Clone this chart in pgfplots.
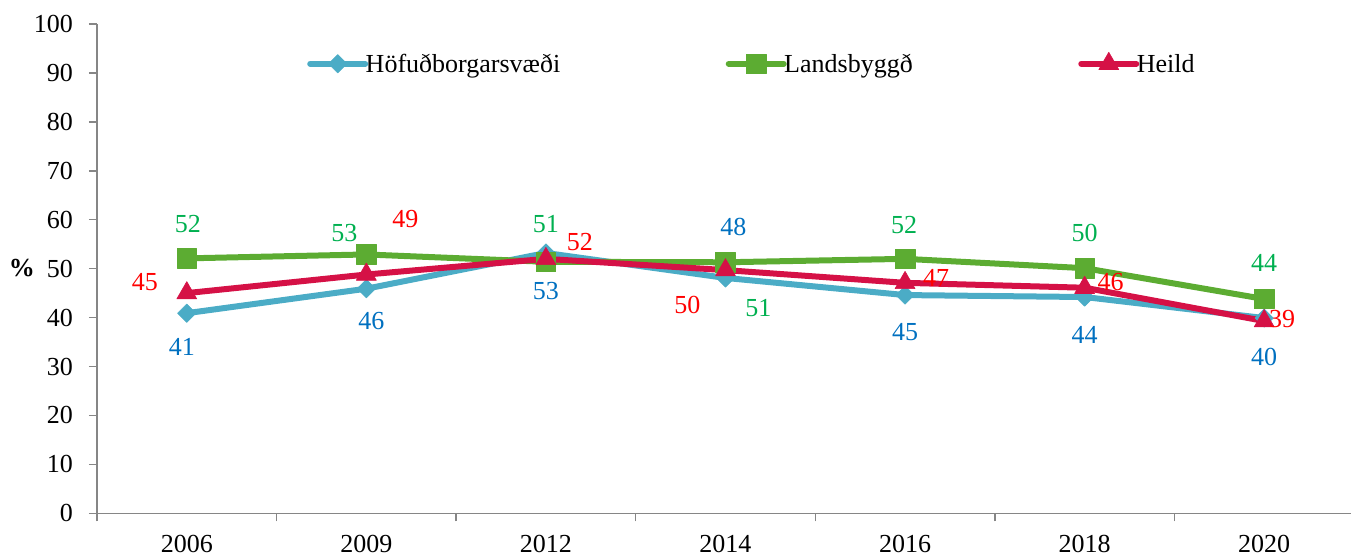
\documentclass[border=0pt]{standalone}
\usepackage{fontspec}
\setmainfont{Liberation Serif}
\usepackage{pgfplots}
\pgfplotsset{compat=1.18}

\definecolor{cBlue}{RGB}{75,172,198}
\definecolor{cGreen}{RGB}{92,172,50}
\definecolor{cRed}{RGB}{213,17,70}
\definecolor{lBlue}{RGB}{0,112,192}
\definecolor{lGreen}{RGB}{0,176,80}
\definecolor{lRed}{RGB}{255,0,0}
\definecolor{axgray}{RGB}{134,134,134}

\pgfplotsset{
  lab/.style n args={3}{forget plot, draw=none, mark=none, nodes near coords,
    point meta=explicit symbolic,
    every node near coord/.append style={anchor=center, inner sep=0pt, xshift=#1pt, yshift=#2pt, text=#3}},
}

\begin{document}
\begin{tikzpicture}[font=\fontsize{26pt}{31pt}\selectfont]
\begin{axis}[
  scale only axis, width=1257pt, height=489.3pt,
  xmin=-0.5, xmax=6.5, ymin=0, ymax=100,
  clip=false,
  axis x line*=bottom, axis y line*=left,
  axis line style={draw=axgray, line width=1.5pt},
  tick align=outside, major tick length=8pt,
  tick style={draw=axgray, line width=1.5pt},
  /pgf/number format/assume math mode=true,
  xtick={-0.5,0.5,...,6.5}, xticklabels={},
  extra x ticks={0,1,2,3,4,5,6},
  extra x tick labels={2006,2009,2012,2014,2016,2018,2020},
  extra x tick style={major tick length=0pt},
  xticklabel style={anchor=north, inner sep=0pt, yshift=-22pt},
  ytick={0,10,...,100},
  yticklabel style={anchor=east, inner sep=0pt, xshift=-16pt},
  ylabel={\textbf{\%}},
  ylabel style={rotate=-90, anchor=center, at={(axis description cs:-0.0597,0.501)}},
  legend columns=3,
  legend style={draw=none, fill=none, inner sep=0pt, at={(0.1671,0.9203)}, anchor=west,
    nodes={inner sep=0pt, text=black},
    /tikz/every odd column/.append style={column sep=-2.5pt},
    /tikz/every even column/.append style={column sep=165.5pt}},
  legend image code/.code={\draw[mark repeat=2,mark phase=2,#1] plot coordinates {(0pt,0pt) (27.5pt,0pt) (55pt,0pt)};},
]
% Höfuðborgarsvæði
\addplot[cBlue, line width=6pt, line cap=round, line join=round,
  mark=square*, mark size=6.5pt, mark options={rotate=45, solid, line width=0.6pt, fill=cBlue, draw=cBlue}]
  coordinates {(0,40.9) (1,45.9) (2,53.2) (3,48.1) (4,44.6) (5,44.2) (6,39.9)};
\addlegendentry{Höfuðborgarsvæði}
% Landsbyggð
\addplot[cGreen, line width=6pt, line cap=round, line join=round,
  mark=square*, mark size=9.8pt, mark options={solid, line width=0.6pt, fill=cGreen, draw=cGreen}]
  coordinates {(0,52.1) (1,52.9) (2,51.4) (3,51.3) (4,52.0) (5,50.1) (6,43.8)};
\addlegendentry{Landsbyggð}
% Heild
\addplot[cRed, line width=6pt, line cap=round, line join=round,
  mark=triangle*, mark size=11.5pt, mark options={solid, line width=0.6pt, fill=cRed, draw=cRed}]
  coordinates {(0,45.0) (1,48.8) (2,52.0) (3,49.7) (4,47.1) (5,46.1) (6,39.3)};
\addlegendentry{Heild}

% data labels: Höfuðborgarsvæði
\addplot[lab={-5}{-34}{lBlue}] coordinates {(0,40.9) [41]};
\addplot[lab={5}{-32}{lBlue}]  coordinates {(1,45.9) [46]};
\addplot[lab={0}{-38}{lBlue}]  coordinates {(2,53.2) [53]};
\addplot[lab={8}{51}{lBlue}]   coordinates {(3,48.1) [48]};
\addplot[lab={0}{-37}{lBlue}]  coordinates {(4,44.6) [45]};
\addplot[lab={0}{-38}{lBlue}]  coordinates {(5,44.2) [44]};
\addplot[lab={0}{-39}{lBlue}]  coordinates {(6,39.9) [40]};
% data labels: Landsbyggð
\addplot[lab={1}{34}{lGreen}]   coordinates {(0,52.1) [52]};
\addplot[lab={-22}{21}{lGreen}] coordinates {(1,52.9) [53]};
\addplot[lab={0}{38}{lGreen}]   coordinates {(2,51.4) [51]};
\addplot[lab={33}{-46}{lGreen}] coordinates {(3,51.3) [51]};
\addplot[lab={-1}{34}{lGreen}]  coordinates {(4,52.0) [52]};
\addplot[lab={0}{35}{lGreen}]   coordinates {(5,50.1) [50]};
\addplot[lab={0}{36}{lGreen}]   coordinates {(6,43.8) [44]};
% data labels: Heild
\addplot[lab={-42}{11}{lRed}]  coordinates {(0,45.0) [45]};
\addplot[lab={39}{55}{lRed}]   coordinates {(1,48.8) [49]};
\addplot[lab={34}{17}{lRed}]   coordinates {(2,52.0) [52]};
\addplot[lab={-38}{-35}{lRed}] coordinates {(3,49.7) [50]};
\addplot[lab={31}{5}{lRed}]    coordinates {(4,47.1) [47]};
\addplot[lab={26}{6}{lRed}]    coordinates {(5,46.1) [46]};
\addplot[lab={18}{2}{lRed}]    coordinates {(6,39.3) [39]};
\end{axis}
\pgfresetboundingbox
\useasboundingbox (-97pt,-42.7pt) rectangle (1254pt,513.3pt);
\end{tikzpicture}
\end{document}
